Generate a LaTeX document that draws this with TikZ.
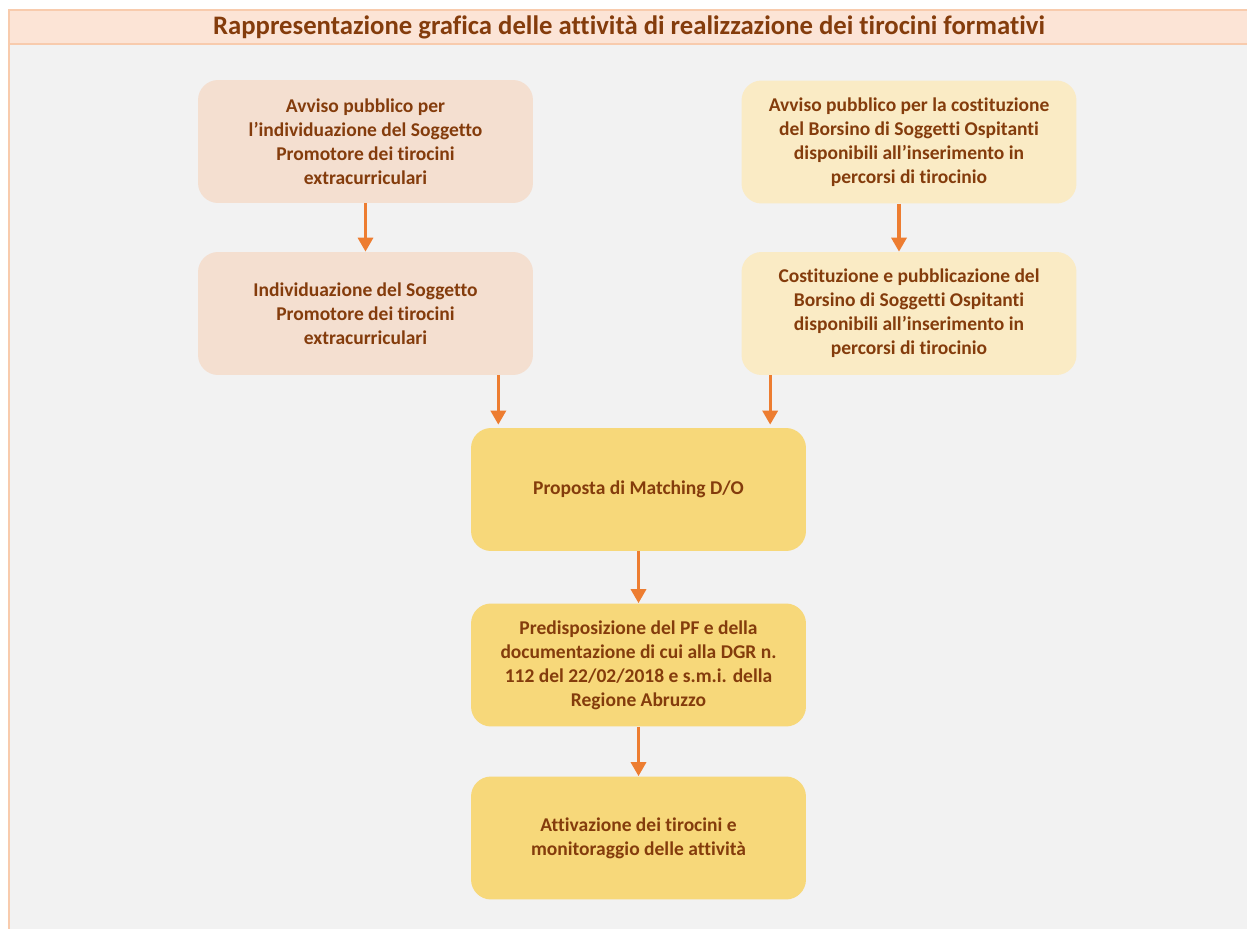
\documentclass[tikz,border=0pt]{standalone}
\usepackage{fontspec}
\setmainfont{Carlito}[Ligatures=NoCommon]
\usetikzlibrary{arrows.meta}
\definecolor{titlefill}{HTML}{FCE4D6}
\definecolor{titleline}{HTML}{F8CBAD}
\definecolor{panel}{HTML}{F2F2F2}
\definecolor{brownText}{HTML}{843C0C}
\definecolor{peach}{HTML}{F4DFD0}
\definecolor{cream}{HTML}{FAEBC5}
\definecolor{gold}{HTML}{F7D87A}
\definecolor{arrowOrange}{HTML}{ED7D31}
\tikzset{
>={Triangle[width=0.3cm,length=0.28cm]},
  stepbox/.style={
    rectangle,
    rounded corners=0.4cm,
    minimum width=6.7cm,
    minimum height=2.46cm,
    inner sep=0pt,
    align=center,
    text=brownText,
    font=\fontsize{11.1}{13.6}\selectfont\bfseries},
  promotore/.style={stepbox, fill=peach},
  ospitante/.style={stepbox, fill=cream},
  comune/.style={stepbox, fill=gold},
  flow/.style={draw=arrowOrange, line width=0.065cm, ->},
  bordo/.style={draw=titleline, line width=0.04cm},
}
\begin{document}
\begin{tikzpicture}[x=0.02cm, y=-0.02cm]
\useasboundingbox (0,0) rectangle (1247,929);
% sfondo e intestazione
\fill[panel] (9,44) rectangle (1260,940);
\draw[bordo] (9,10) -- (9,940);
\filldraw[bordo, fill=titlefill] (9,10) rectangle (1260,44);
\node[text=brownText, font=\fontsize{15.2}{18}\selectfont\bfseries] (titolo) at (629,27)
  {Rappresentazione grafica delle attività di realizzazione dei tirocini formativi};
% colonna sinistra
\node[promotore] (avvisoP) at (365.5,141.5) {Avviso pubblico per\\ l’individuazione del Soggetto\\ Promotore dei tirocini\\ extracurriculari};
\node[promotore] (indivP) at (365.5,313.5) {Individuazione del Soggetto\\ Promotore dei tirocini\\ extracurriculari};
% colonna destra
\node[ospitante] (avvisoO) at (909,142) {Avviso pubblico per la costituzione\\ del Borsino di Soggetti Ospitanti\\ disponibili all’inserimento in\\ percorsi di tirocinio};
\node[ospitante] (borsino) at (909,313.5) {Costituzione e pubblicazione del\\ Borsino di Soggetti Ospitanti\\ disponibili all’inserimento in\\ percorsi di tirocinio};
% colonna centrale
\node[comune] (matching) at (638.5,489.5) {Proposta di Matching D/O};
\node[comune] (pf) at (638.5,665) {Predisposizione del PF e della\\ documentazione di cui alla DGR n.\\ 112 del 22/02/2018 e s.m.i. della\\ Regione Abruzzo};
\node[comune] (attiv) at (638.5,838) {Attivazione dei tirocini e\\ monitoraggio delle attività};
% frecce
\draw[flow] (avvisoP) -- (indivP);
\draw[flow] ([xshift=-0.2cm]avvisoO.south) -- ([xshift=-0.2cm]borsino.north);
\draw[flow, shorten >=0.06cm] ([xshift=-0.7cm]indivP.south east) -- ([xshift=-0.7cm]indivP.south east |- matching.north);
\draw[flow, shorten >=0.06cm] ([xshift=0.58cm]borsino.south west) -- ([xshift=0.58cm]borsino.south west |- matching.north);
\draw[flow] (matching) -- (pf);
\draw[flow] (pf) -- (attiv);
\end{tikzpicture}
\end{document}
